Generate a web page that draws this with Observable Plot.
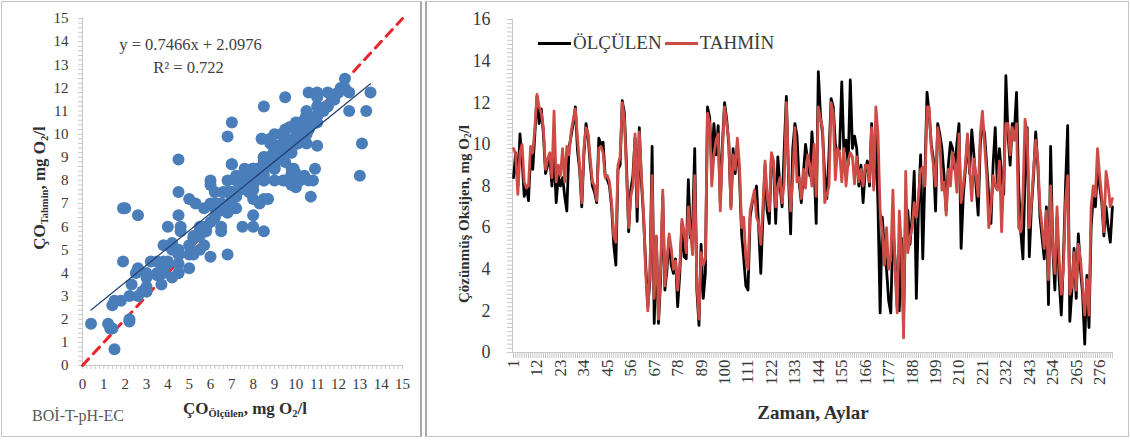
<!DOCTYPE html>
<html>
<head>
<meta charset="utf-8">
<script src="https://cdn.jsdelivr.net/npm/d3@7"></script>
<script src="https://cdn.jsdelivr.net/npm/@observablehq/plot@0.6"></script>
<style>
  html, body { margin:0; padding:0; background:#fff; }
  body { width:1130px; height:441px; position:relative; overflow:hidden;
         font-family:"Liberation Serif","DejaVu Serif",serif; color:#404040; }
  .panel { position:absolute; top:1px; height:436px; border:1px solid #c4c4c4; box-sizing:border-box; }
  #leftPanel { left:1px; width:421px; border-right:2px solid #a8a8a8; }
  #rightPanel { left:425px; width:704px; border-left:2px solid #a8a8a8; }
  #left { position:absolute; left:0; top:0; }
  #right { position:absolute; left:428px; top:0; }
  .lbl { position:absolute; white-space:nowrap; transform:translate(-50%,-50%); }
  .rot { transform:translate(-50%,-50%) rotate(-90deg); }
  .b { font-weight:bold; color:#303030; }
  sub { font-size:62%; vertical-align:-0.25em; line-height:0; }
  #legend { position:absolute; left:538px; top:43px; transform:translateY(-50%);
            display:flex; align-items:center; font-size:19px; color:#3a3a3a; }
  .sw { display:inline-block; width:33px; height:3px; margin-right:2px; }
</style>
</head>
<body>
<div class="panel" id="leftPanel"></div>
<div class="panel" id="rightPanel"></div>
<div id="left"></div>
<div id="right"></div>

<div class="lbl b rot" style="left:40px;top:188px;font-size:17px;">ÇO<sub>Tahmin</sub>, mg O<sub>2</sub>/l</div>
<div class="lbl b" style="left:245px;top:409px;font-size:17px;">ÇO<sub>Ölçülen</sub>, mg O<sub>2</sub>/l</div>
<div class="lbl" style="left:78px;top:416px;font-size:16px;color:#595959;">BOİ-T-pH-EC</div>

<div class="lbl b rot" style="left:464px;top:214px;font-size:15px;">Çözünmüş Oksijen, mg O<sub>2</sub>/l</div>
<div class="lbl b" style="left:813px;top:413px;font-size:19px;">Zaman, Aylar</div>
<div id="legend">
  <span class="sw" style="background:#000"></span><span>ÖLÇÜLEN</span>
  <span class="sw" style="background:#cf4b45;margin-left:3px"></span><span>TAHMİN</span>
</div>

<script>
// ---- Data ----
const olculen = [
  8.4, 9.6, 8.0, 10.5, 9.3, 7.5, 8.0, 7.3, 9.5, 8.8, 10.5, 12.3,
  11.0, 11.7, 10.5, 8.6, 9.0, 9.4, 8.0, 9.5, 7.2, 8.5, 8.0,
  8.4, 7.5, 6.8, 9.8, 10.4, 11.0, 11.8, 9.7, 8.8, 7.0, 9.5,
  11.0, 10.3, 9.0, 8.0, 7.7, 7.2, 10.3, 10.0, 10.1, 8.5, 8.3,
  8.0, 7.0, 5.2, 4.2, 8.8, 9.0, 12.1, 11.5, 9.0, 5.8, 7.8,
  8.5, 10.3, 6.3, 10.8, 8.2, 6.5, 4.2, 2.2, 3.5, 9.9, 1.4,
  5.5, 1.4, 3.5, 7.5, 3.0, 4.0, 5.5, 4.2, 3.8, 4.5, 2.2,
  3.8, 6.2, 4.6, 4.5, 8.3, 5.5, 6.0, 9.8, 3.0, 1.3, 5.2,
  2.6, 3.8, 11.8, 11.3, 9.0, 11.0, 9.5, 10.9, 7.2, 10.0, 12.0,
  11.2, 10.0, 7.0, 9.8, 8.6, 10.0, 8.5, 5.7, 4.5, 3.2, 3.0,
  6.5, 7.2, 7.5, 8.0, 6.0, 3.8, 6.5, 9.0, 6.8, 6.2, 9.5,
  9.0, 6.2, 9.4, 8.0, 7.0, 9.8, 12.3, 8.5, 5.7, 9.8, 11.0,
  10.4, 8.2, 7.2, 8.6, 10.0, 9.2, 8.5, 10.6, 9.0, 6.2, 13.5,
  11.4, 10.5, 8.5, 7.4, 9.5, 12.2, 11.8, 10.0, 9.5, 9.8, 13.0,
  9.6, 10.2, 9.0, 13.1, 9.8, 10.4, 9.8, 8.0, 9.0, 7.2, 8.7,
  9.2, 8.0, 11.0, 8.0, 10.6, 7.0, 1.9, 6.5, 5.0, 4.0, 2.5,
  1.9, 6.0, 4.5, 2.2, 2.0, 5.5, 1.5, 7.0, 6.8, 5.2, 6.5,
  8.7, 2.6, 7.0, 9.5, 4.5, 8.5, 12.5, 11.5, 10.0, 9.3, 6.8,
  11.0, 10.5, 9.8, 8.5, 6.8, 9.0, 10.1, 9.8, 8.8, 10.0, 11.0,
  5.0, 7.5, 8.8, 10.2, 8.6, 10.7, 9.5, 8.0, 6.6, 10.0, 11.0,
  10.5, 9.0, 7.5, 6.2, 9.0, 10.8, 8.0, 9.8, 8.5, 7.6, 13.3,
  10.5, 9.0, 11.0, 10.6, 12.5, 8.0, 5.8, 4.5, 8.5, 10.8, 4.6,
  7.0, 8.5, 10.6, 9.0, 6.5, 5.5, 4.5, 7.0, 2.3, 9.9, 5.0,
  3.0, 6.5, 3.5, 1.8, 4.5, 8.0, 10.9, 1.5, 3.0, 5.0, 2.6,
  5.7, 4.0, 2.8, 0.4, 3.7, 1.2, 6.0, 7.5, 7.0, 8.8, 8.0,
  7.2, 5.6, 7.0, 6.0, 5.3, 7.0
];
const tahmin = [
  9.8, 9.5, 7.6, 9.6, 10.0, 8.2, 7.9, 8.0, 9.9, 9.6, 10.8, 12.4,
  11.8, 11.5, 10.8, 8.8, 9.3, 9.6, 8.4, 11.6, 8.2, 9.0, 8.5,
  9.8, 8.2, 9.9, 9.5, 10.6, 11.2, 11.7, 10.3, 9.0, 7.2, 9.8,
  10.8, 10.5, 9.3, 8.2, 8.0, 7.3, 9.8, 9.9, 9.6, 8.4, 8.5,
  8.2, 7.2, 5.6, 5.3, 9.0, 9.4, 12.0, 11.2, 8.6, 6.0, 7.5,
  8.0, 10.5, 7.0, 10.6, 8.5, 6.7, 3.8, 2.0, 3.9, 8.5, 2.6,
  5.6, 1.6, 4.0, 7.8, 3.2, 4.4, 5.7, 5.0, 4.0, 4.4, 3.0,
  4.2, 6.4, 5.8, 4.8, 7.0, 5.8, 4.7, 8.5, 3.4, 1.6, 4.8,
  4.2, 4.5, 11.5, 11.0, 8.0, 9.5, 10.2, 10.5, 6.8, 9.7, 11.8,
  11.0, 10.2, 6.9, 9.5, 8.8, 10.3, 9.0, 6.0, 6.5, 4.5, 4.0,
  6.8, 7.3, 7.8, 6.5, 6.2, 5.2, 7.0, 9.2, 7.5, 6.8, 9.6,
  9.2, 7.0, 8.0, 8.4, 7.2, 8.2, 12.0, 8.8, 6.8, 8.3, 10.8,
  8.2, 8.4, 7.4, 8.8, 7.9, 9.5, 9.0, 8.0, 10.0, 7.5, 11.8,
  11.2, 10.8, 7.2, 7.6, 8.0, 12.0, 11.5, 8.3, 9.8, 9.6, 8.2,
  9.8, 8.0, 9.2, 9.6, 9.4, 8.1, 9.4, 8.2, 8.8, 8.0, 9.0,
  9.0, 8.2, 10.8, 7.8, 11.8, 10.5, 6.8, 5.8, 4.2, 6.0, 4.0,
  4.5, 7.8, 4.0, 1.9, 6.8, 5.0, 0.7, 8.7, 4.8, 5.5, 6.0,
  7.2, 6.5, 7.5, 8.8, 8.9, 8.0, 11.8, 11.8, 9.8, 9.0, 8.0,
  10.8, 10.2, 7.8, 8.2, 6.6, 8.8, 8.0, 9.6, 9.0, 7.7, 10.5,
  7.2, 8.0, 9.0, 10.5, 8.8, 7.3, 9.3, 8.5, 7.5, 10.5, 11.6,
  10.0, 8.5, 6.0, 7.0, 8.5, 8.0, 7.8, 9.2, 5.8, 8.5, 11.0,
  11.0, 9.5, 10.8, 10.2, 11.0, 6.0, 5.8, 7.5, 11.2, 10.5, 6.0,
  7.2, 8.8, 10.2, 9.2, 7.0, 6.0, 5.0, 6.8, 3.5, 8.0, 5.2,
  3.8, 7.0, 4.5, 2.8, 4.0, 7.2, 8.5, 2.8, 3.2, 4.8, 3.0,
  5.2, 4.5, 3.2, 1.8, 3.5, 1.8, 7.0, 8.0, 7.5, 9.8, 8.5,
  7.5, 5.8, 8.7, 8.0, 7.0, 7.4
];
const slope = 0.7466;
const intercept = 2.0976;
const r2 = 0.722;
const scatterTicks = [0,1,2,3,4,5,6,7,8,9,10,11,12,13,14,15];
const seriesYTicks = [0,2,4,6,8,10,12,14,16];
const monthTicks = [1,12,23,34,45,56,67,78,89,100,111,122,133,144,155,166,177,188,199,210,221,232,243,254,265,276];

// ---- Left: scatter ----
const axisGray = "#c8c8c8";
const pairs = olculen.map((v, i) => ({x: v, y: tahmin[i]}));
const xExt = d3.extent(olculen);
const trend = xExt.map(x => ({x, y: slope * x + intercept}));
const diag = d3.extent(scatterTicks);
const fmt = d3.format(".4f");

const left = Plot.plot({
  width: 420, height: 441,
  marginLeft: 82, marginRight: 18, marginTop: 18, marginBottom: 76,
  x: {domain: diag}, y: {domain: diag},
  style: {background: "transparent", color: "#383838", fontFamily: "'Liberation Serif', serif"},
  marks: [
    Plot.ruleX([diag[0]], {stroke: axisGray}),
    Plot.ruleY([diag[0]], {stroke: axisGray}),
    Plot.axisY(d3.range(0, 15.001, 0.2), {tickSize: 4, tickFormat: () => "", stroke: axisGray, label: null}),
    Plot.axisX(d3.range(0, 15.001, 0.2), {tickSize: 4, tickFormat: () => "", stroke: axisGray, label: null}),
    Plot.axisY(scatterTicks, {tickSize: 0, tickPadding: 14, fontSize: 15, label: null}),
    Plot.axisX(scatterTicks, {tickSize: 0, tickPadding: 13, fontSize: 15, label: null}),
    Plot.line(diag, {x: d => d, y: d => d, stroke: "#e8262a", strokeWidth: 3, strokeDasharray: "9,7"}),
    Plot.dot(pairs, {x: "x", y: "y", r: 6, fill: "#4a7ebb"}),
    Plot.line(trend, {x: "x", y: "y", stroke: "#23406c", strokeWidth: 1.2}),
    Plot.text([`y = ${fmt(slope)}x + ${fmt(intercept)}`], {frameAnchor: "top", dx: -52, dy: 20, fontSize: 16.5, fill: "#404040"}),
    Plot.text([`R² = ${r2}`], {frameAnchor: "top", dx: -54, dy: 43, fontSize: 16.5, fill: "#404040"})
  ]
});
document.getElementById("left").appendChild(left);

// ---- Right: time series ----
const months = d3.range(1, olculen.length + 1);
const right = Plot.plot({
  width: 702, height: 441,
  marginLeft: 84, marginRight: 17, marginTop: 19, marginBottom: 89,
  x: {domain: [0.5, olculen.length + 0.5]},
  y: {domain: d3.extent(seriesYTicks)},
  style: {background: "transparent", color: "#383838", fontFamily: "'Liberation Serif', serif"},
  marks: [
    Plot.ruleX([0.5], {stroke: axisGray}),
    Plot.ruleY([0], {stroke: axisGray}),
    Plot.axisY(d3.range(0, 16.001, 0.2), {tickSize: 5, tickFormat: () => "", stroke: axisGray, label: null}),
    Plot.axisX(months, {tickSize: 6, tickFormat: () => "", stroke: axisGray, label: null}),
    Plot.axisY(seriesYTicks, {tickSize: 0, tickPadding: 22, fontSize: 18, label: null}),
    Plot.axisX(monthTicks, {tickSize: 0, tickPadding: 7, tickRotate: -90, fontSize: 17, label: null}),
    Plot.line(olculen, {x: (d, i) => months[i], y: d => d, stroke: "#000", strokeWidth: 2.8, strokeLinejoin: "round"}),
    Plot.line(tahmin, {x: (d, i) => months[i], y: d => d, stroke: "#cf4b45", strokeWidth: 2.8, strokeLinejoin: "round"})
  ]
});
document.getElementById("right").appendChild(right);
</script>
</body>
</html>
